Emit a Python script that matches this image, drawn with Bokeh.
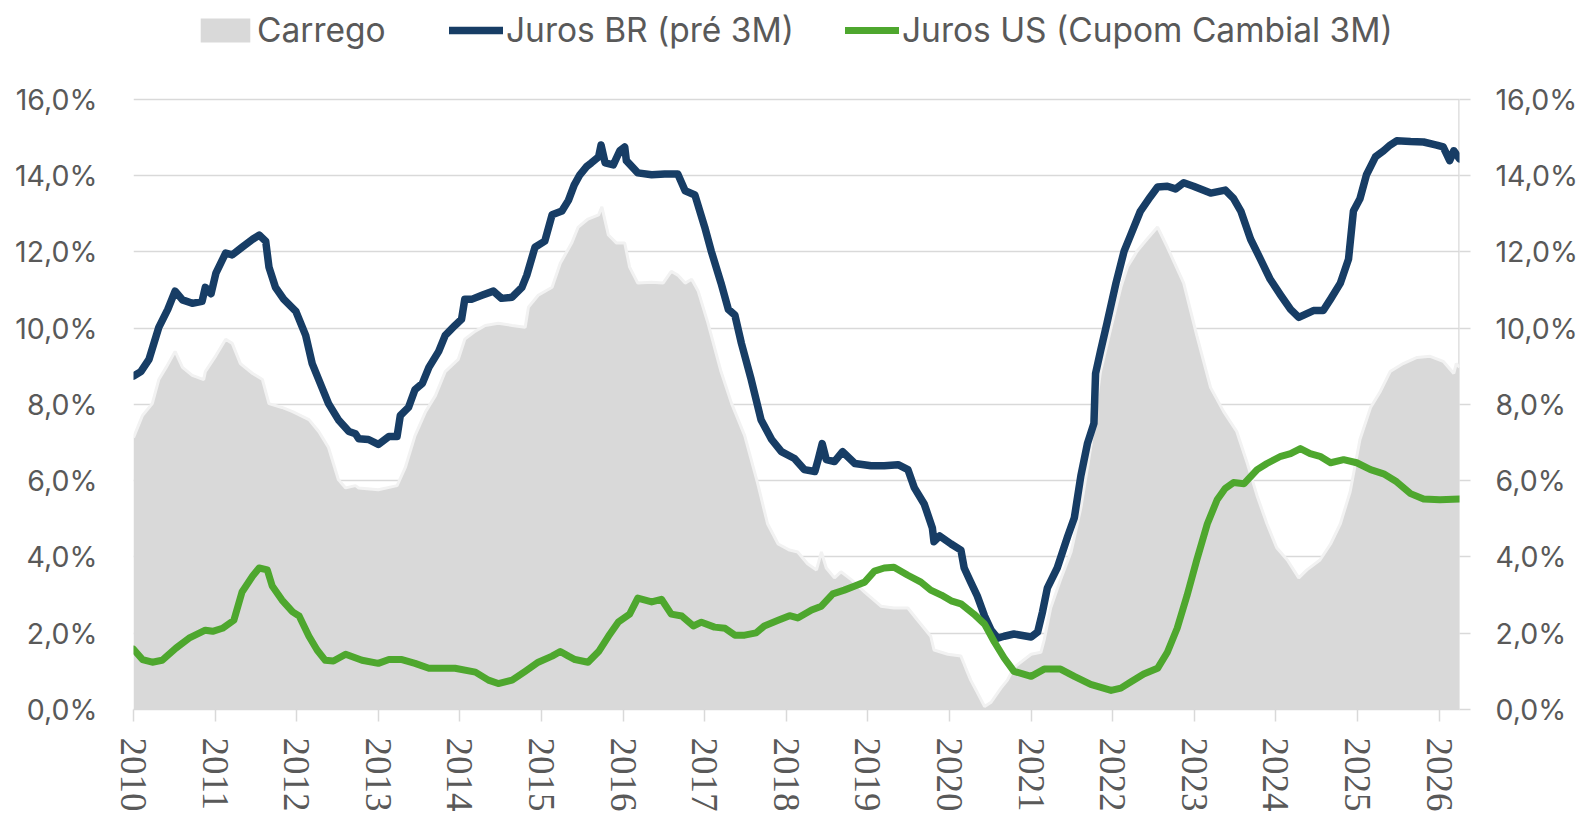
from bokeh.plotting import figure
from bokeh.models import Range1d, LinearAxis, FixedTicker, Legend, LegendItem
from bokeh.embed import file_html
from bokeh.resources import INLINE

# ---------------- data ----------------
carrego_t = [2010.00, 2010.11, 2010.23, 2010.31, 2010.40, 2010.51, 2010.60, 2010.72, 2010.86, 2010.88,
             2011.01, 2011.13, 2011.21, 2011.31, 2011.46, 2011.58, 2011.66, 2011.82, 2011.95, 2012.15,
             2012.27, 2012.39, 2012.51, 2012.60, 2012.72, 2012.76, 2013.00, 2013.23, 2013.33, 2013.45,
             2013.58, 2013.70, 2013.82, 2013.98, 2014.06, 2014.19, 2014.31, 2014.47, 2014.64, 2014.80,
             2014.84, 2014.96, 2015.13, 2015.23, 2015.37, 2015.45, 2015.57, 2015.70, 2015.74, 2015.82,
             2015.92, 2016.02, 2016.08, 2016.18, 2016.35, 2016.49, 2016.59, 2016.67, 2016.76, 2016.84,
             2016.92, 2017.04, 2017.20, 2017.33, 2017.49, 2017.65, 2017.77, 2017.90, 2018.04, 2018.14,
             2018.26, 2018.37, 2018.43, 2018.49, 2018.59, 2018.67, 2018.80, 2018.96, 2019.16, 2019.32,
             2019.49, 2019.61, 2019.77, 2019.81, 2019.98, 2020.14, 2020.20, 2020.26, 2020.34, 2020.43,
             2020.51, 2020.63, 2020.71, 2020.79, 2021.00, 2021.12, 2021.16, 2021.24, 2021.36, 2021.49,
             2021.61, 2021.73, 2021.85, 2021.98, 2022.10, 2022.18, 2022.30, 2022.42, 2022.55, 2022.67,
             2022.87, 2023.03, 2023.20, 2023.36, 2023.52, 2023.65, 2023.77, 2023.89, 2024.01, 2024.14,
             2024.28, 2024.38, 2024.54, 2024.67, 2024.79, 2024.91, 2025.03, 2025.16, 2025.28, 2025.40,
             2025.56, 2025.73, 2025.89, 2026.05, 2026.18, 2026.21, 2026.25]
carrego_v = [7.13, 7.71, 8.02, 8.65, 8.97, 9.39, 8.97, 8.76, 8.65, 8.86,
             9.28, 9.71, 9.60, 9.07, 8.81, 8.65, 8.02, 7.92, 7.81, 7.60,
             7.29, 6.87, 6.03, 5.81, 5.87, 5.81, 5.76, 5.87, 6.34, 7.18,
             7.81, 8.23, 8.86, 9.18, 9.71, 9.92, 10.07, 10.13, 10.07, 10.02,
             10.55, 10.86, 11.07, 11.70, 12.23, 12.65, 12.86, 12.97, 13.18, 12.44,
             12.23, 12.23, 11.60, 11.18, 11.20, 11.18, 11.49, 11.39, 11.18, 11.28,
             10.97, 10.13, 8.86, 8.02, 7.18, 5.92, 4.87, 4.34, 4.18, 4.13,
             3.82, 3.66, 4.13, 3.71, 3.45, 3.61, 3.40, 3.08, 2.71, 2.66,
             2.66, 2.34, 1.92, 1.56, 1.45, 1.40, 1.08, 0.77, 0.45, 0.08,
             0.19, 0.56, 0.77, 1.10, 1.45, 1.50, 1.82, 2.66, 3.40, 4.13,
             5.29, 6.87, 8.86, 10.02, 11.07, 11.60, 12.02, 12.33, 12.65, 12.12,
             11.18, 9.81, 8.44, 7.81, 7.29, 6.45, 5.60, 4.87, 4.24, 3.92,
             3.45, 3.66, 3.92, 4.34, 4.87, 5.71, 7.08, 7.92, 8.34, 8.86,
             9.07, 9.23, 9.26, 9.13, 8.81, 9.07, 8.97]

br_t = [2010.00, 2010.09, 2010.19, 2010.31, 2010.42, 2010.51, 2010.60, 2010.72, 2010.84, 2010.88,
        2010.95, 2011.01, 2011.13, 2011.21, 2011.33, 2011.46, 2011.54, 2011.62, 2011.66, 2011.74,
        2011.84, 2011.99, 2012.11, 2012.19, 2012.31, 2012.39, 2012.51, 2012.64, 2012.72, 2012.76,
        2012.88, 2013.00, 2013.13, 2013.23, 2013.27, 2013.37, 2013.45, 2013.54, 2013.62, 2013.74,
        2013.82, 2013.94, 2014.02, 2014.06, 2014.15, 2014.27, 2014.41, 2014.51, 2014.64, 2014.76,
        2014.82, 2014.92, 2015.04, 2015.13, 2015.25, 2015.33, 2015.40, 2015.47, 2015.55, 2015.61,
        2015.70, 2015.73, 2015.78, 2015.88, 2015.96, 2016.02, 2016.04, 2016.18, 2016.35, 2016.51,
        2016.67, 2016.76, 2016.88, 2017.00, 2017.08, 2017.20, 2017.29, 2017.37, 2017.45, 2017.57,
        2017.69, 2017.82, 2017.94, 2018.10, 2018.22, 2018.35, 2018.39, 2018.44, 2018.49, 2018.59,
        2018.69, 2018.84, 2019.04, 2019.20, 2019.37, 2019.49, 2019.57, 2019.69, 2019.79, 2019.81,
        2019.88, 2020.02, 2020.14, 2020.18, 2020.26, 2020.34, 2020.43, 2020.51, 2020.59, 2020.67,
        2020.79, 2021.00, 2021.08, 2021.14, 2021.20, 2021.32, 2021.45, 2021.53, 2021.61, 2021.69,
        2021.77, 2021.79, 2021.85, 2021.93, 2022.04, 2022.14, 2022.22, 2022.34, 2022.46, 2022.55,
        2022.67, 2022.77, 2022.87, 2022.99, 2023.20, 2023.38, 2023.48, 2023.57, 2023.69, 2023.81,
        2023.93, 2024.06, 2024.18, 2024.28, 2024.34, 2024.46, 2024.58, 2024.67, 2024.79, 2024.89,
        2024.95, 2025.03, 2025.11, 2025.22, 2025.32, 2025.40, 2025.48, 2025.65, 2025.81, 2025.97,
        2026.05, 2026.13, 2026.18, 2026.25]
br_v = [8.74, 8.86, 9.18, 10.02, 10.49, 10.97, 10.74, 10.65, 10.70, 11.07,
        10.90, 11.44, 11.97, 11.92, 12.12, 12.33, 12.44, 12.28, 11.60, 11.07,
        10.76, 10.44, 9.81, 9.07, 8.44, 8.02, 7.60, 7.29, 7.23, 7.10,
        7.08, 6.95, 7.16, 7.16, 7.71, 7.92, 8.39, 8.55, 8.97, 9.39,
        9.81, 10.07, 10.23, 10.76, 10.76, 10.86, 10.97, 10.78, 10.81, 11.07,
        11.39, 12.12, 12.28, 12.97, 13.07, 13.35, 13.75, 14.02, 14.23, 14.33,
        14.49, 14.80, 14.33, 14.28, 14.65, 14.75, 14.39, 14.07, 14.02, 14.04,
        14.04, 13.60, 13.49, 12.65, 12.02, 11.18, 10.49, 10.34, 9.60, 8.65,
        7.60, 7.08, 6.76, 6.58, 6.29, 6.24, 6.55, 6.97, 6.55, 6.50,
        6.76, 6.45, 6.39, 6.39, 6.42, 6.29, 5.81, 5.39, 4.76, 4.40,
        4.55, 4.34, 4.18, 3.71, 3.34, 2.98, 2.45, 2.08, 1.87, 1.92,
        1.98, 1.90, 2.03, 2.56, 3.19, 3.71, 4.55, 5.03, 6.13, 6.97,
        7.50, 8.81, 9.39, 10.13, 11.18, 12.02, 12.44, 13.07, 13.44, 13.70,
        13.72, 13.65, 13.81, 13.72, 13.54, 13.62, 13.40, 13.07, 12.33, 11.81,
        11.28, 10.86, 10.49, 10.28, 10.34, 10.46, 10.46, 10.76, 11.18, 11.81,
        13.07, 13.39, 14.02, 14.49, 14.65, 14.80, 14.91, 14.89, 14.88, 14.80,
        14.75, 14.39, 14.65, 14.44]

us_t = [2010.00, 2010.11, 2010.23, 2010.35, 2010.52, 2010.68, 2010.88, 2010.97, 2011.09, 2011.23,
        2011.33, 2011.46, 2011.54, 2011.64, 2011.70, 2011.82, 2011.95, 2012.03, 2012.15, 2012.25,
        2012.35, 2012.45, 2012.60, 2012.80, 2013.00, 2013.13, 2013.29, 2013.45, 2013.62, 2013.78,
        2013.94, 2014.19, 2014.35, 2014.47, 2014.64, 2014.80, 2014.96, 2015.13, 2015.23, 2015.33,
        2015.41, 2015.57, 2015.70, 2015.82, 2015.94, 2016.08, 2016.18, 2016.35, 2016.47, 2016.59,
        2016.72, 2016.86, 2016.96, 2017.12, 2017.25, 2017.37, 2017.49, 2017.63, 2017.73, 2017.90,
        2018.04, 2018.14, 2018.31, 2018.43, 2018.57, 2018.71, 2018.84, 2018.96, 2019.08, 2019.20,
        2019.32, 2019.49, 2019.65, 2019.77, 2019.90, 2020.02, 2020.14, 2020.30, 2020.43, 2020.55,
        2020.67, 2020.79, 2021.00, 2021.16, 2021.36, 2021.53, 2021.73, 2021.98, 2022.10, 2022.22,
        2022.38, 2022.55, 2022.67, 2022.79, 2022.91, 2023.03, 2023.16, 2023.28, 2023.38, 2023.48,
        2023.61, 2023.77, 2023.89, 2024.06, 2024.18, 2024.30, 2024.42, 2024.54, 2024.67, 2024.83,
        2024.99, 2025.16, 2025.32, 2025.48, 2025.65, 2025.81, 2026.01, 2026.25]
us_v = [1.58, 1.31, 1.24, 1.29, 1.61, 1.87, 2.08, 2.05, 2.13, 2.34,
        3.08, 3.50, 3.71, 3.66, 3.24, 2.87, 2.56, 2.45, 1.92, 1.56,
        1.29, 1.27, 1.45, 1.29, 1.21, 1.31, 1.31, 1.21, 1.08, 1.08,
        1.08, 0.98, 0.77, 0.68, 0.77, 1.00, 1.24, 1.40, 1.52, 1.40,
        1.31, 1.24, 1.52, 1.92, 2.29, 2.50, 2.92, 2.82, 2.89, 2.50,
        2.45, 2.19, 2.29, 2.16, 2.13, 1.95, 1.95, 2.01, 2.19, 2.34,
        2.46, 2.40, 2.61, 2.71, 3.03, 3.13, 3.24, 3.34, 3.63, 3.71,
        3.73, 3.52, 3.34, 3.13, 3.00, 2.85, 2.77, 2.50, 2.24, 1.77,
        1.35, 1.00, 0.87, 1.06, 1.06, 0.87, 0.66, 0.50, 0.56, 0.72,
        0.93, 1.08, 1.50, 2.13, 2.98, 3.92, 4.87, 5.50, 5.80, 5.95,
        5.92, 6.29, 6.45, 6.64, 6.71, 6.84, 6.71, 6.64, 6.47, 6.55,
        6.47, 6.29, 6.18, 5.97, 5.66, 5.52, 5.50, 5.52]

x_years = list(range(2010, 2027))
y_ticks = [0, 2, 4, 6, 8, 10, 12, 14, 16]
y_tick_labels = ["0,0%", "2,0%", "4,0%", "6,0%", "8,0%", "10,0%", "12,0%", "14,0%", "16,0%"]
series_names = ["Carrego", "Juros BR (pré 3M)", "Juros US (Cupom Cambial 3M)"]

# ---------------- style ----------------
GRID = "#d9d9d9"
TXT = "#595959"
NAVY = "#173d65"
GREEN = "#4ea72e"
AREA = "#d9d9d9"
FONT = "Inter"

X_START, X_END = 2010, 2026.25
Y_TOP = 18.59          # headroom above 16% that holds the legend

p = figure(width=1580, height=814, x_range=Range1d(X_START, X_END), y_range=Range1d(0, Y_TOP),
           output_backend="svg", toolbar_location=None,
           min_border_left=133, min_border_right=119, min_border_top=0, min_border_bottom=104)
p.outline_line_color = None
p.background_fill_color = "white"

# x axis
xa = p.xaxis[0]
xa.ticker = FixedTicker(ticks=x_years)
xa.major_label_orientation = "vertical"
xa.major_label_text_font = "Liberation Sans Narrow"
xa.major_label_text_font_size = "37px"
xa.major_label_text_color = TXT
xa.major_tick_out = 12
xa.major_tick_in = 0
xa.major_tick_line_color = GRID
xa.major_tick_line_width = 1.5
xa.minor_tick_line_color = None
xa.axis_line_color = GRID
xa.axis_line_width = 1.5
xa.major_label_standoff = 16

overrides = {t: lab for t, lab in zip(y_ticks, y_tick_labels)}

ya = p.yaxis[0]
ya.ticker = FixedTicker(ticks=y_ticks)
ya.major_label_overrides = overrides
ya.axis_line_color = None
ya.major_tick_line_color = None
ya.minor_tick_line_color = None
ya.major_label_text_font = FONT
ya.major_label_text_font_size = "28.5px"
ya.major_label_text_color = TXT
ya.major_label_standoff = 30

ra = LinearAxis(ticker=FixedTicker(ticks=y_ticks), major_label_overrides=overrides)
ra.axis_line_color = None
ra.major_tick_line_color = GRID
ra.major_tick_line_width = 1.5
ra.major_tick_out = 11
ra.major_tick_in = 0
ra.minor_tick_line_color = None
ra.major_label_text_font = FONT
ra.major_label_text_font_size = "28.5px"
ra.major_label_text_color = TXT
ra.major_label_standoff = 25
p.add_layout(ra, "right")

p.xgrid.visible = False
p.ygrid.ticker = FixedTicker(ticks=y_ticks)
p.ygrid.grid_line_color = GRID
p.ygrid.grid_line_width = 1.5

# right axis line, only over the 0-16% span
p.segment(x0=[X_END], y0=[y_ticks[0]], x1=[X_END], y1=[y_ticks[-1]],
          line_color=GRID, line_width=2.5)

# glyphs
area = p.varea(x=carrego_t, y1=0, y2=carrego_v, fill_color=AREA)
p.line(carrego_t, carrego_v, line_color="#f2f2f2", line_width=3)
br = p.line(br_t, br_v, line_color=NAVY, line_width=7.5, line_join="round", line_cap="round")
us = p.line(us_t, us_v, line_color=GREEN, line_width=7, line_join="round", line_cap="round")


def make_legend(label, renderer, loc, gw, gh, standoff):
    return Legend(items=[LegendItem(label=label, renderers=[renderer])],
                  location=loc, glyph_width=gw, glyph_height=gh, label_standoff=standoff,
                  padding=0, margin=0, border_line_color=None, background_fill_alpha=0,
                  label_text_font=FONT, label_text_font_size="33.5px", label_text_color=TXT)


LEG_Y = 659
p.add_layout(make_legend(series_names[0], area, (61, LEG_Y), 62, 30, 1))
p.add_layout(make_legend(series_names[1], br, (316, LEG_Y), 54, 24, 3))
p.add_layout(make_legend(series_names[2], us, (712, LEG_Y), 54, 24, 3))

open("out.html", "w").write(file_html(p, INLINE))
